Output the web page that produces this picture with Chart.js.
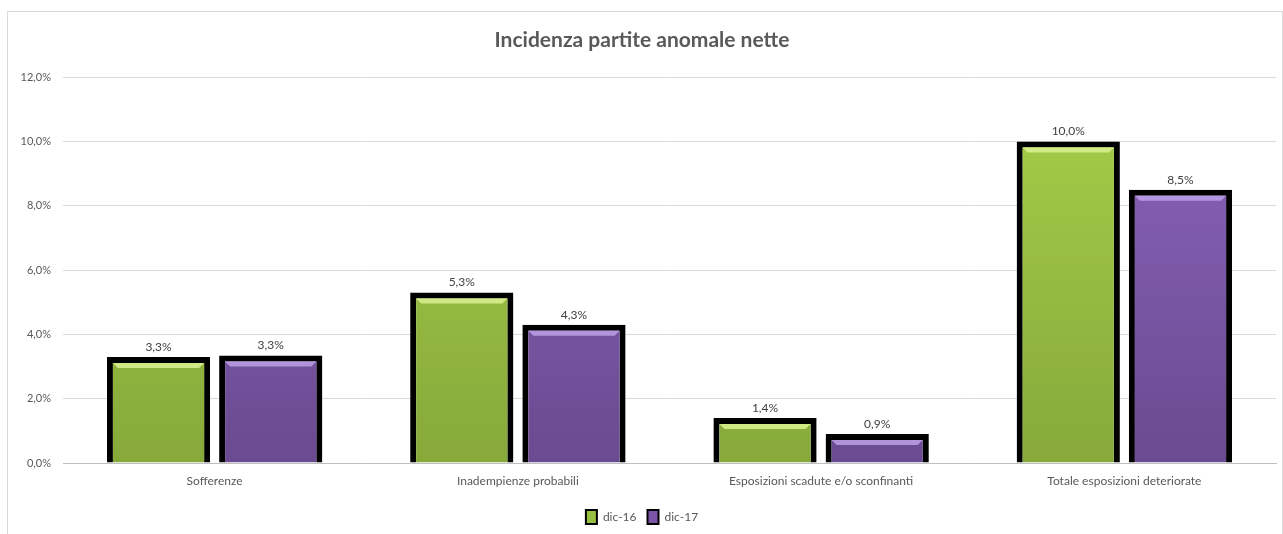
<!DOCTYPE html>
<html>
<head>
<meta charset="utf-8">
<script src="https://cdn.jsdelivr.net/npm/chart.js@4"></script>
<style>
  body { margin: 0; background: #fff; }
  #box { position: absolute; left: 7px; top: 11px; width: 1274px; height: 530px; border: 1px solid #d9d9d9; border-bottom: none; }
</style>
</head>
<body>
<div id="box"><canvas id="chart"></canvas></div>
<script>
// data
const categories = ["Sofferenze", "Inadempienze probabili", "Esposizioni scadute e/o sconfinanti", "Totale esposizioni deteriorate"];
const dic16 = [3.3, 5.3, 1.4, 10.0];
const dic17 = [3.34, 4.3, 0.9, 8.5];
const seriesNames = ["dic-16", "dic-17"];
const yTicks = [0, 2, 4, 6, 8, 10, 12];

const FONT = "Lato, 'Noto Sans', sans-serif";

// make a shaded fill so the bars look a bit like the excel bevel
function barFill(light, dark) {
  return function (ctx) {
    const chart = ctx.chart;
    const area = chart.chartArea;
    if (!area) return dark;
    const g = chart.ctx.createLinearGradient(0, area.top, 0, area.bottom);
    g.addColorStop(0, light);
    g.addColorStop(1, dark);
    return g;
  };
}

// little highlight strip on top of every bar
const bevel = {
  id: 'bevel',
  afterDatasetsDraw(chart) {
    const c = chart.ctx;
    const tops = ['rgba(215,238,140,0.9)', 'rgba(185,155,228,0.9)'];
    chart.data.datasets.forEach((ds, i) => {
      chart.getDatasetMeta(i).data.forEach(bar => {
        const left = bar.x - bar.width / 2 + 6;
        const right = bar.x + bar.width / 2 - 6;
        c.save();
        c.fillStyle = tops[i];
        c.beginPath();
        c.moveTo(left, bar.y + 6);
        c.lineTo(right, bar.y + 6);
        c.lineTo(right - 5, bar.y + 11);
        c.lineTo(left + 5, bar.y + 11);
        c.closePath();
        c.fill();
        c.restore();
      });
    });
  }
};

// value labels above the bars
const valueLabels = {
  id: 'valueLabels',
  afterDatasetsDraw(chart) {
    const c = chart.ctx;
    c.save();
    c.font = "12px " + FONT;
    c.fillStyle = "#404040";
    c.textAlign = "center";
    c.textBaseline = "bottom";
    chart.data.datasets.forEach((ds, i) => {
      chart.getDatasetMeta(i).data.forEach((bar, j) => {
        const v = ds.data[j].toFixed(1).replace('.', ',') + '%';
        c.fillText(v, bar.x, bar.y - 4);
      });
    });
    c.restore();
  }
};

const config = {
  type: 'bar',
  data: {
    labels: categories,
    datasets: [
      {
        label: seriesNames[0],
        data: dic16,
        backgroundColor: barFill('#a8cf49', '#86a93a'),
        borderColor: '#000',
        borderWidth: 6,
        borderSkipped: 'bottom'
      },
      {
        label: seriesNames[1],
        data: dic17,
        backgroundColor: barFill('#8c65bd', '#6a4a90'),
        borderColor: '#000',
        borderWidth: 6,
        borderSkipped: 'bottom'
      }
    ]
  },
  options: {
    responsive: false,
    animation: false,
    categoryPercentage: 0.74,
    barPercentage: 0.92,
    layout: { padding: { top: 8, right: 6, bottom: 0, left: 0 } },
    plugins: {
      title: {
        display: true,
        text: 'Incidenza partite anomale nette',
        color: '#595959',
        font: { family: FONT, size: 21, weight: 'bold' },
        padding: { top: 8, bottom: 24 }
      },
      legend: {
        position: 'bottom',
        labels: {
          color: '#595959',
          font: { family: FONT, size: 12 },
          boxWidth: 11,
          boxHeight: 14,
          padding: 11,
          generateLabels() {
            const cols = ['#98c040', '#7a55a8'];
            return seriesNames.map((n, i) => ({
              text: n, fillStyle: cols[i], strokeStyle: '#000', lineWidth: 2,
              fontColor: '#595959', datasetIndex: i
            }));
          }
        }
      },
      tooltip: { enabled: false }
    },
    scales: {
      x: {
        afterFit(s) { s.height = 36; },
        grid: { display: false },
        border: { color: '#bfbfbf' },
        ticks: { color: '#595959', font: { family: FONT, size: 12 }, padding: 3 }
      },
      y: {
        min: 0,
        max: 12,
        afterBuildTicks(s) { s.ticks = yTicks.map(v => ({ value: v })); },
        afterFit(s) { s.width = 55; },
        grid: { color: '#d9d9d9', drawTicks: false },
        border: { display: false },
        ticks: {
          color: '#595959',
          font: { family: FONT, size: 11 },
          padding: 12,
          callback: v => v.toFixed(1).replace('.', ',') + '%'
        }
      }
    }
  },
  plugins: [bevel, valueLabels]
};

const cv = document.getElementById('chart');
cv.width = 1274;
cv.height = 522;
new Chart(cv, config);
</script>
</body>
</html>
